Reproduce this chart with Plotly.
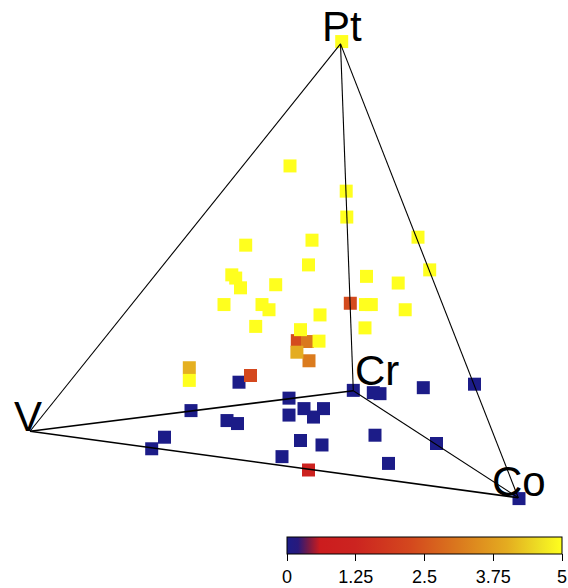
import plotly.graph_objects as go

# Projected vertex positions of the composition tetrahedron (drawing units)
vertex_names = ["Pt", "V", "Cr", "Co"]
vertex_x = [340.5, 30.0, 353.3, 518.3]
vertex_y = [44.0, 432.7, 392.0, 499.5]

# Tetrahedron edges (pairs of vertex indices)
edges = [(0, 1), (0, 2), (0, 3), (1, 2), (1, 3), (2, 3)]

# Sample points (projected positions) and their measured values (0..5)
px = [353.3, 373.3, 380.0, 423.3, 474.5, 289.0, 191.0, 304.0, 323.5, 289.0,
      313.5, 227.0, 237.5, 375.0, 164.5, 151.7, 300.5, 322.0, 436.5, 282.0,
      388.5, 519.0, 239.0,
      308.5, 250.5,
      350.3, 297.3,
      307.5,
      309.0,
      296.9, 189.3,
      341.7, 290.0, 346.2, 346.8, 418.0, 312.0, 245.7, 429.7, 308.5, 231.8,
      235.7, 240.5, 275.7, 366.5, 398.2, 224.0, 262.0, 269.0, 365.5, 371.3,
      405.2, 320.0, 255.7, 365.0, 300.5, 319.0, 189.3]
py = [391.7, 394.0, 395.0, 389.0, 385.5, 399.5, 412.0, 410.0, 410.0, 416.5,
      418.5, 422.0, 425.0, 436.7, 438.7, 450.3, 442.0, 446.5, 445.0, 458.2,
      465.0, 500.3, 383.5,
      471.6, 376.8,
      304.3, 341.8,
      342.7,
      362.0,
      353.4, 369.0,
      41.7, 166.5, 191.8, 217.8, 238.0, 241.0, 246.0, 270.8, 265.8, 275.8,
      279.0, 288.8, 285.7, 277.3, 284.0, 305.6, 305.6, 310.8, 305.6, 305.6,
      310.8, 316.0, 327.5, 329.0, 330.8, 342.3, 381.7]
pv = [0.0] * 23 + [1.05, 2.25, 2.3, 2.3, 3.1, 3.15, 4.0, 4.05] + [5.0] * 27

cb_ticks = [0, 1.25, 2.5, 3.75, 5]
cb_labels = ["0", "1.25", "2.5", "3.75", "5"]

colorscale = [
    [0.00, "#1c1c88"],
    [0.04, "#28197c"],
    [0.08, "#7a1a44"],
    [0.12, "#cc1c1e"],
    [0.25, "#cc2420"],
    [0.45, "#d4481e"],
    [0.62, "#da781e"],
    [0.80, "#e4ac20"],
    [0.92, "#eee024"],
    [1.00, "#ffff1e"],
]

W, H = 568, 588
fig = go.Figure()

fig.add_trace(go.Scatter(
    x=px, y=py, mode="markers",
    marker=dict(
        symbol="square", size=13, color=pv, colorscale=colorscale,
        cmin=0, cmax=5, line=dict(width=0),
        showscale=True,
        colorbar=dict(
            orientation="h", x=287 / W, xanchor="left",
            y=1 - 539 / H, yanchor="top",
            len=275, lenmode="pixels", thickness=17,
            xpad=0, ypad=0,
            outlinewidth=1, outlinecolor="black",
            tickmode="array", tickvals=cb_ticks, ticktext=cb_labels,
            ticks="outside", ticklen=7, tickwidth=1, tickcolor="black",
            ticklabelposition="outside bottom",
            tickfont=dict(family="Liberation Sans", size=18, color="black"),
        ),
    ),
    hoverinfo="skip", showlegend=False,
))

for a, b in edges:
    w = 1.6 if 1 in (a, b) and (a, b) != (0, 1) else 1.1
    fig.add_trace(go.Scatter(
        x=[vertex_x[a], vertex_x[b]], y=[vertex_y[a], vertex_y[b]],
        mode="lines", line=dict(color="black", width=w),
        hoverinfo="skip", showlegend=False,
    ))

# Vertex labels
label_pos = {
    "Pt": (341.7, 26.3, "center"),
    "V": (28.3, 418.3, "center"),
    "Cr": (354.0, 371.8, "left"),
    "Co": (490.7, 483.3, "left"),
}
for name in vertex_names:
    lx, ly, anc = label_pos[name]
    fig.add_annotation(
        x=lx, y=ly, xref="x", yref="y", text=name, showarrow=False,
        xanchor=anc, yanchor="middle", borderpad=0,
        font=dict(family="Liberation Sans", size=42, color="black"),
    )

fig.update_layout(
    width=W, height=H,
    margin=dict(l=0, r=0, t=0, b=0),
    paper_bgcolor="white", plot_bgcolor="white",
    xaxis=dict(range=[0, W], visible=False, fixedrange=True),
    yaxis=dict(range=[H, 0], visible=False, fixedrange=True),
)

fig.write_html("out.html")
